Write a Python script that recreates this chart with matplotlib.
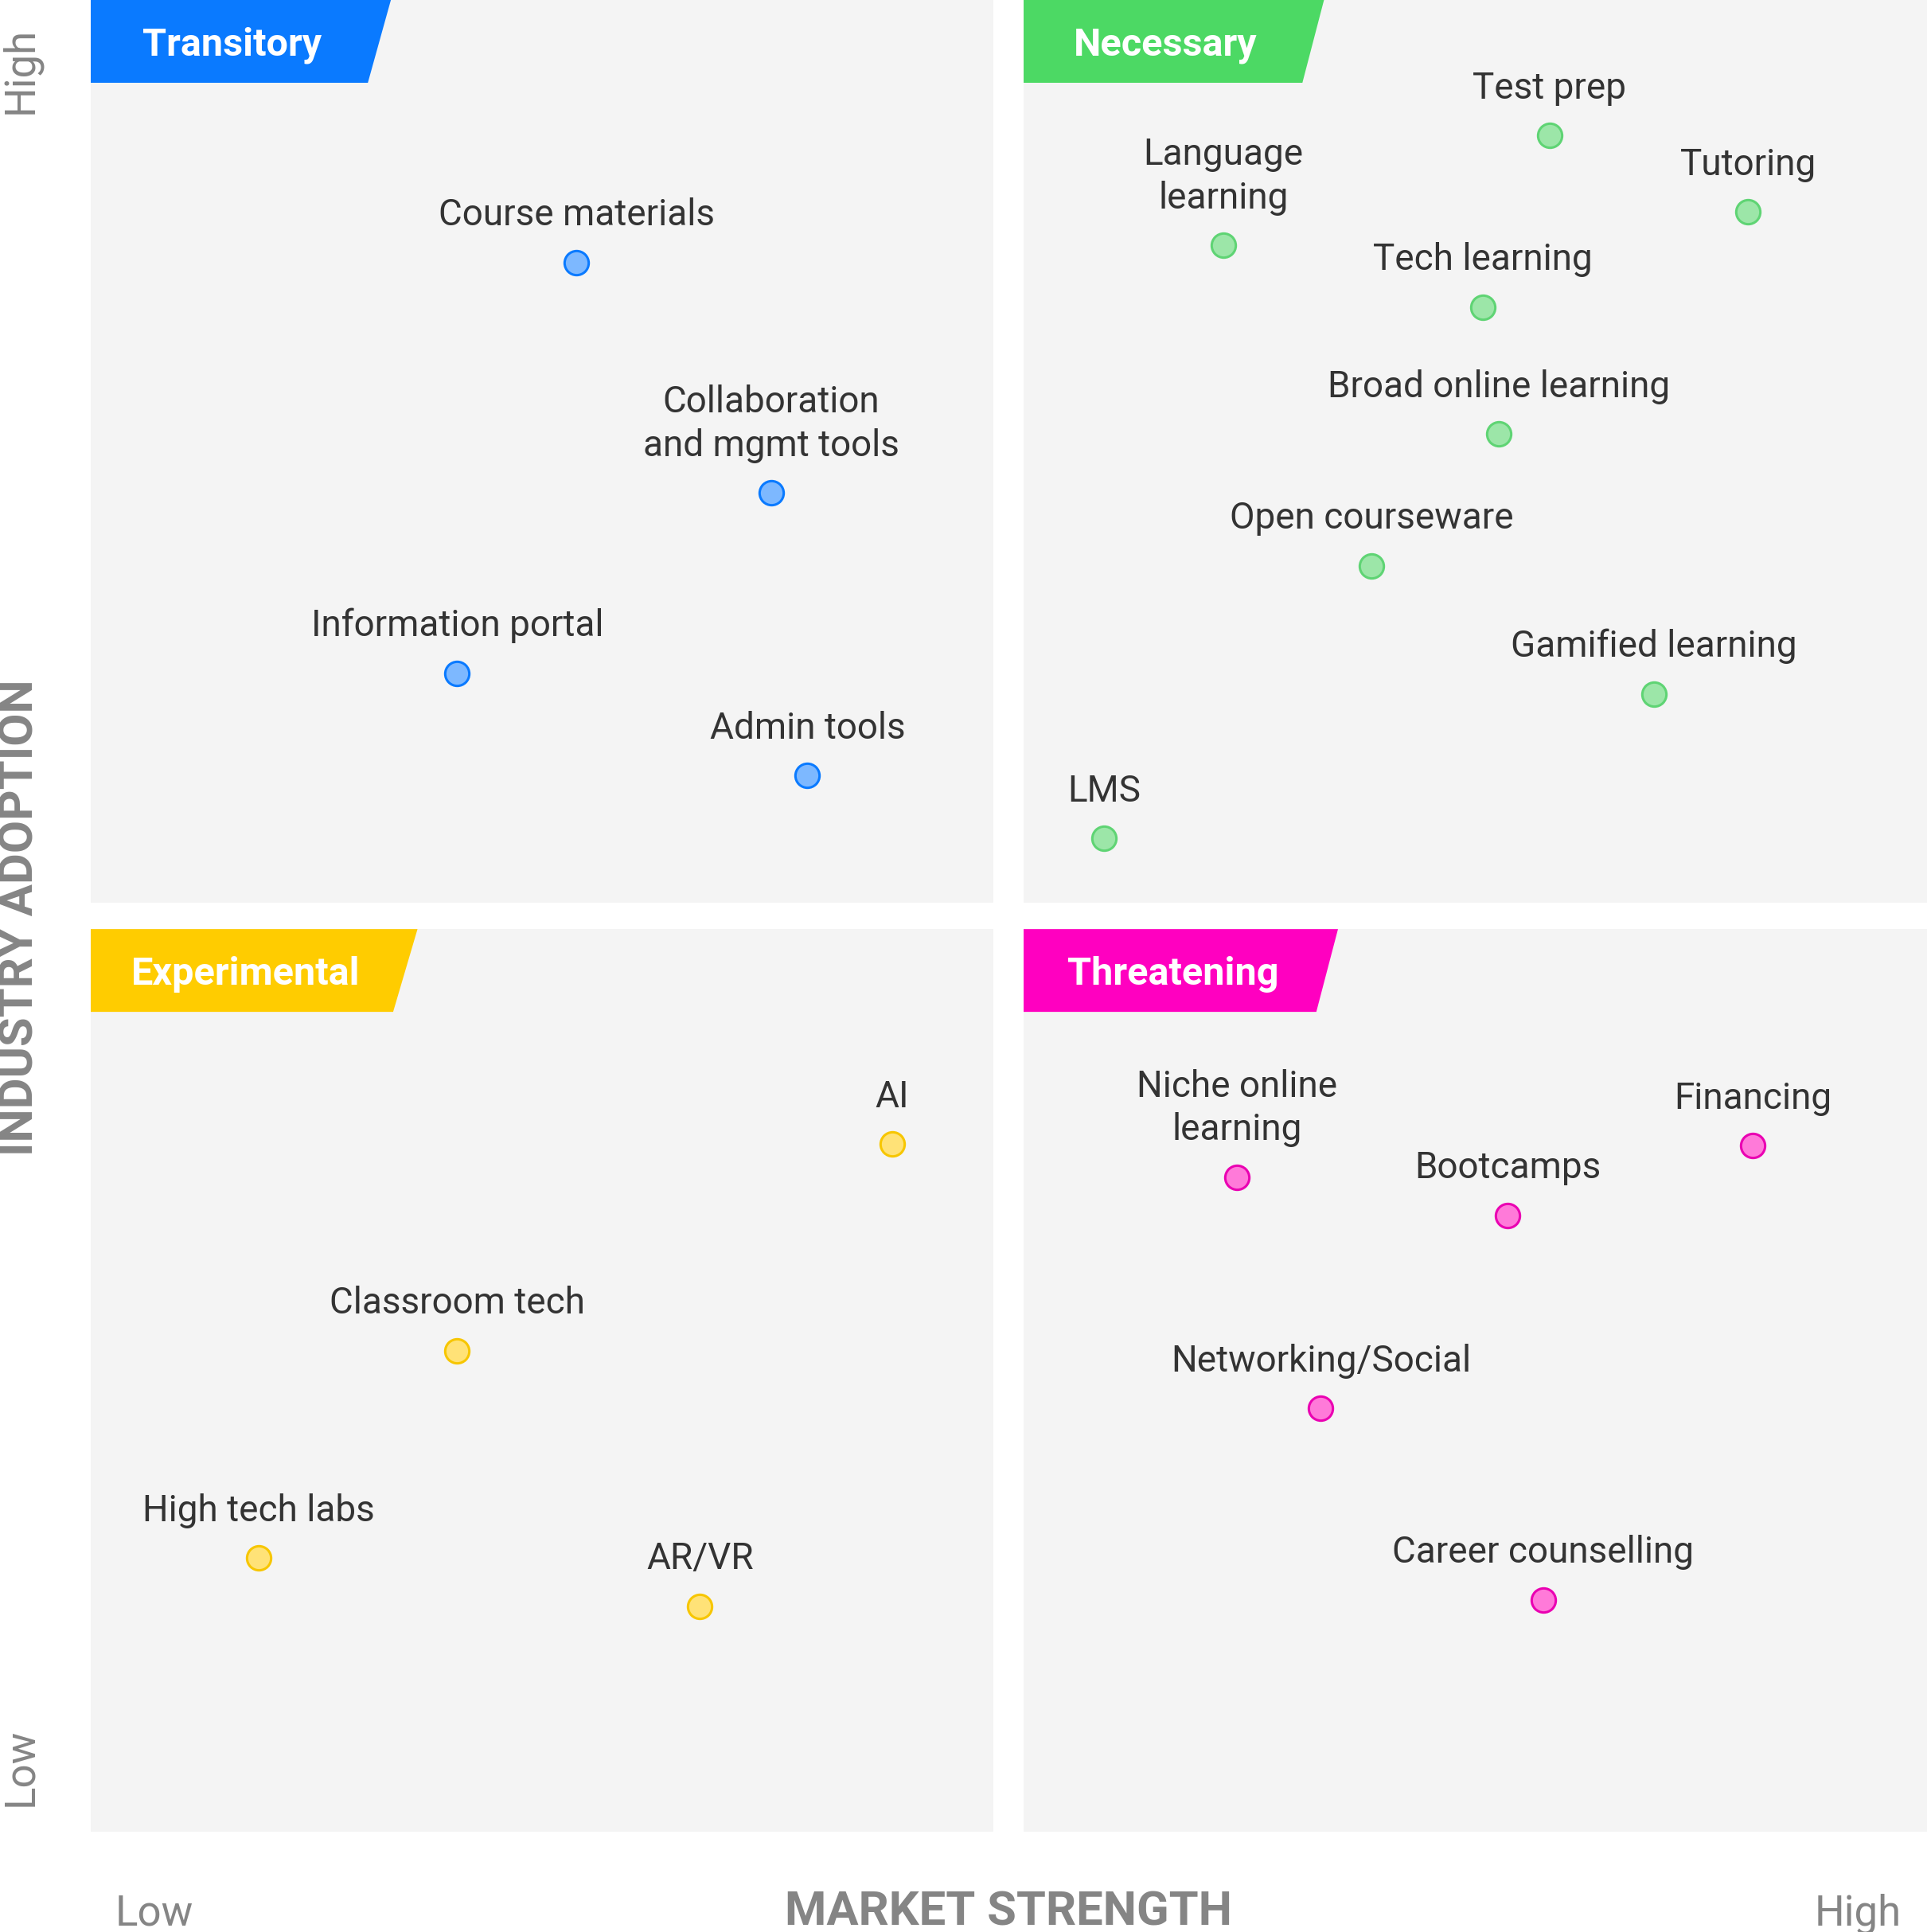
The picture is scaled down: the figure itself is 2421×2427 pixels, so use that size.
import matplotlib.pyplot as plt
from matplotlib.patches import Polygon

plt.rcParams['font.family'] = ['Roboto', 'DejaVu Sans']

# quadrant data, local 0-100 scale inside each panel
transitory_labels = ["Course materials", "Collaboration\nand mgmt tools", "Information portal", "Admin tools"]
transitory_x = [53.8, 75.4, 40.6, 79.4]
transitory_y = [70.9, 45.4, 25.4, 14.1]

necessary_labels = ["Test prep", "Tutoring", "Language\nlearning", "Tech learning",
                    "Broad online learning", "Open courseware", "Gamified learning", "LMS"]
necessary_x = [58.2, 80.2, 22.1, 50.8, 52.6, 38.5, 69.8, 8.9]
necessary_y = [85.0, 76.5, 72.8, 66.0, 51.9, 37.3, 23.1, 7.1]

experimental_labels = ["AI", "Classroom tech", "High tech labs", "AR/VR"]
experimental_x = [88.8, 40.6, 18.6, 67.5]
experimental_y = [76.2, 53.3, 30.3, 25.0]

threatening_labels = ["Niche online\nlearning", "Financing", "Bootcamps", "Networking/Social", "Career counselling"]
threatening_x = [23.6, 80.7, 53.6, 32.9, 57.5]
threatening_y = [72.5, 76.0, 68.3, 46.9, 25.7]

quadrants = [
    ("Transitory", transitory_labels, transitory_x, transitory_y),
    ("Necessary", necessary_labels, necessary_x, necessary_y),
    ("Experimental", experimental_labels, experimental_x, experimental_y),
    ("Threatening", threatening_labels, threatening_x, threatening_y),
]

# styling per quadrant: banner colour, marker face, marker edge, banner top/bottom width, axes rect
styles = {
    "Transitory": dict(banner="#0a7aff", face="#7db8ff", edge="#0a7aff", w=(0.3325, 0.307),
                       rect=[0.0471, 0.5328, 0.4684, 0.4672]),
    "Necessary": dict(banner="#4cd964", face="#9ce6a8", edge="#5fd474", w=(0.3325, 0.3086),
                      rect=[0.5312, 0.5328, 0.4688, 0.4672]),
    "Experimental": dict(banner="#ffcc00", face="#ffe277", edge="#f7c600", w=(0.362, 0.335),
                         rect=[0.0471, 0.0519, 0.4684, 0.4672]),
    "Threatening": dict(banner="#ff00c0", face="#ff7ad9", edge="#ea00b2", w=(0.348, 0.324),
                        rect=[0.5312, 0.0519, 0.4688, 0.4672]),
}

fig = plt.figure(figsize=(24.21, 24.27), dpi=100)

for name, labels, xs, ys in quadrants:
    st = styles[name]
    ax = fig.add_axes(st["rect"])
    ax.set_facecolor("#f4f4f4")
    ax.set_xlim(0, 100)
    ax.set_ylim(0, 100)
    ax.set_xticks([])
    ax.set_yticks([])
    for s in ax.spines.values():
        s.set_visible(False)

    # slanted banner in the top-left corner
    wt, wb = st["w"]
    bh = 0.0917
    ax.add_patch(Polygon([(0, 1), (wt, 1), (wb, 1 - bh), (0, 1 - bh)], closed=True,
                         transform=ax.transAxes, facecolor=st["banner"], edgecolor="none",
                         clip_on=False, zorder=3))
    ax.text((wt + wb) / 4 - 0.003, 1 - 0.0617, name, transform=ax.transAxes, ha="center",
            va="baseline", color="white", fontsize=35, fontweight="bold", zorder=4)

    ax.scatter(xs, ys, s=23 ** 2 * 0.9, facecolor=st["face"], edgecolor=st["edge"],
               linewidth=2.2, zorder=5, clip_on=False)
    for lab, x, y in zip(labels, xs, ys):
        ax.annotate(lab, (x, y), xytext=(0, 27), textcoords="offset points", ha="center",
                    va="bottom", multialignment="center", fontsize=33, color="#333333",
                    linespacing=1.3, zorder=6)

gray = "#858585"
fig.text(0.0107, 1 - 34 / 2427, "High", rotation=90, ha="center", va="top",
         fontsize=38, color=gray)
fig.text(0.0107, 1 - 2269 / 2427, "Low", rotation=90, ha="center", va="bottom",
         fontsize=38, color=gray)
fig.text(0.0107, 0.525, "INDUSTRY ADOPTION", rotation=90, ha="center", va="center",
         fontsize=43, color=gray, fontweight="bold")
fig.text(145 / 2421, 0.0037, "Low", ha="left", va="baseline", fontsize=38, color=gray)
fig.text(2389 / 2421, 0.0037, "High", ha="right", va="baseline", fontsize=38, color=gray)
fig.text(1267 / 2421, 0.0037, "MARKET STRENGTH", ha="center", va="baseline", fontsize=43,
         color=gray, fontweight="bold")

fig.savefig("out.png", dpi=100, facecolor="white")
